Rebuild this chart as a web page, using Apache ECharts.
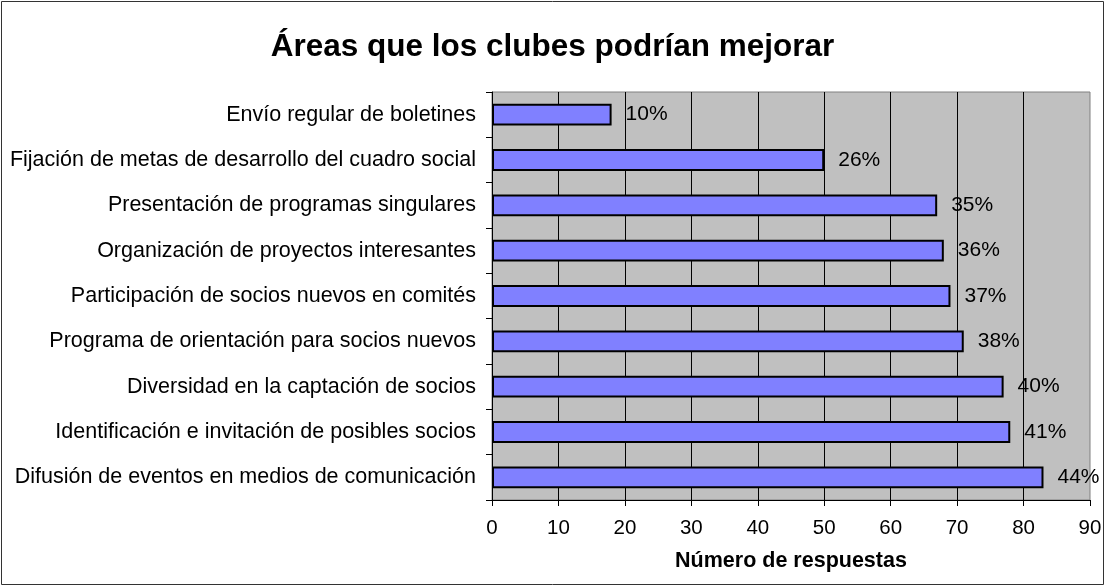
<!DOCTYPE html>
<html>
<head>
<meta charset="utf-8">
<script src="https://cdn.jsdelivr.net/npm/echarts@6/dist/echarts.min.js"></script>
<style>
html,body{margin:0;padding:0;background:#fff;}
#chart{width:1105px;height:586px;}
</style>
</head>
<body>
<div id="chart"></div>
<script>
const categories = [
  "Envío regular de boletines",
  "Fijación de metas de desarrollo del cuadro social",
  "Presentación de programas singulares",
  "Organización de proyectos interesantes",
  "Participación de socios nuevos en comités",
  "Programa de orientación para socios nuevos",
  "Diversidad en la captación de socios",
  "Identificación e invitación de posibles socios",
  "Difusión de eventos en medios de comunicación"
];
const responses = [18, 50, 67, 68, 69, 71, 77, 78, 83];
const percentLabels = ["10%", "26%", "35%", "36%", "37%", "38%", "40%", "41%", "44%"];
const xTicks = [0, 10, 20, 30, 40, 50, 60, 70, 80, 90];
const titleText = "Áreas que los clubes podrían mejorar";
const xAxisTitle = "Número de respuestas";

const FONT = "'Liberation Sans', Arial, sans-serif";
const chart = echarts.init(document.getElementById('chart'), null, {renderer: 'canvas'});
chart.setOption({
  animation: false,
  backgroundColor: '#ffffff',
  title: {
    text: titleText,
    left: 'center',
    top: 26,
    textStyle: {fontFamily: FONT, fontSize: 31.5, fontWeight: 'bold', color: '#000'}
  },
  graphic: [{
    type: 'rect',
    shape: {x: 1.5, y: 1.5, width: 1102, height: 583},
    style: {fill: 'none', stroke: '#333', lineWidth: 1},
    silent: true,
    z: 100
  }],
  grid: {
    left: 492, right: 15, top: 92, bottom: 86,
    show: true,
    backgroundColor: '#C0C0C0',
    borderColor: '#808080',
    borderWidth: 1
  },
  xAxis: {
    type: 'value',
    min: xTicks[0],
    max: xTicks[xTicks.length - 1],
    interval: xTicks[1] - xTicks[0],
    name: xAxisTitle,
    nameLocation: 'middle',
    nameGap: 50,
    nameTextStyle: {fontFamily: FONT, fontSize: 21.5, fontWeight: 'bold', color: '#000'},
    axisLine: {show: true, lineStyle: {color: '#000', width: 1}},
    axisTick: {show: true, inside: false, length: 6, lineStyle: {color: '#000'}},
    axisLabel: {fontFamily: FONT, fontSize: 20.5, color: '#000', margin: 18},
    splitLine: {show: true, showMinLine: false, showMaxLine: false, lineStyle: {color: '#000', width: 1}}
  },
  yAxis: {
    type: 'category',
    data: categories,
    inverse: true,
    axisLine: {show: true, lineStyle: {color: '#000', width: 1}},
    axisTick: {show: true, inside: false, length: 6, alignWithLabel: false, lineStyle: {color: '#000'}},
    axisLabel: {fontFamily: FONT, fontSize: 21.5, color: '#000', margin: 16},
    splitLine: {show: false}
  },
  series: [{
    type: 'bar',
    data: responses,
    barCategoryGap: '52%',
    itemStyle: {color: '#8080FF', borderColor: '#000', borderWidth: 2},
    label: {
      show: true,
      position: 'right',
      distance: 14,
      fontFamily: FONT,
      fontSize: 21,
      color: '#000',
      formatter: function (p) { return percentLabels[p.dataIndex]; }
    }
  }]
});
</script>
</body>
</html>
